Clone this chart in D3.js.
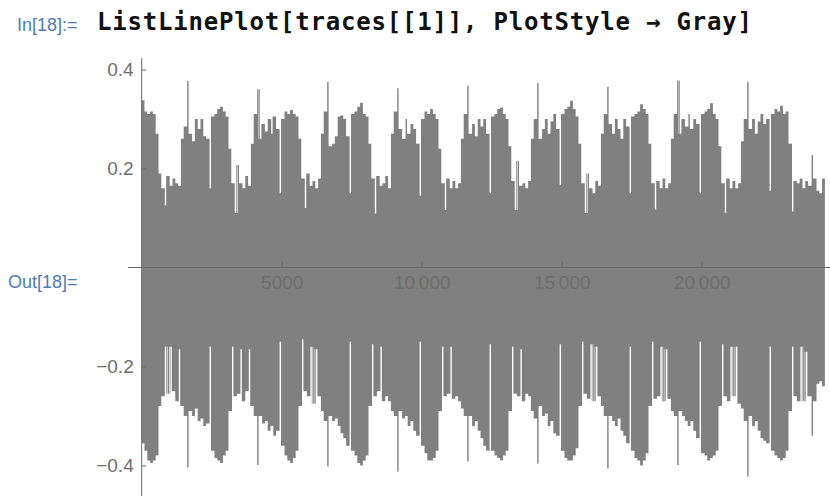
<!DOCTYPE html>
<html>
<head>
<meta charset="utf-8">
<script src="https://cdn.jsdelivr.net/npm/d3@7"></script>
<style>
  html, body { margin: 0; padding: 0; background: #fff; }
  svg { display: block; }
</style>
</head>
<body>
<svg id="chart" width="830" height="496"></svg>
<script>
// Trace 1, decimated: each entry is the max / min of one block of samples.
const binSize = 100;

const traceMax = [
  0.338, 0.315, 0.31, 0.315, 0.31, 0.27, 0.19, 0.16, 0.126, 0.185, 0.165, 0.18, 0.17, 0.165, 0.26, 0.285,
  0.377, 0.27, 0.255, 0.30, 0.28, 0.30, 0.265, 0.26, 0.16, 0.305, 0.31, 0.32, 0.325, 0.315, 0.305, 0.24, 0.17, 0.11, 0.207, 0.17, 0.16, 0.185, 0.165, 0.25, 0.31,
  0.36, 0.26, 0.29, 0.275, 0.30, 0.27, 0.305, 0.28, 0.15, 0.30, 0.315, 0.31, 0.318, 0.31, 0.305, 0.26, 0.18, 0.12, 0.19, 0.165, 0.175, 0.16, 0.18, 0.27, 0.315,
  0.375, 0.245, 0.25, 0.265, 0.305, 0.307, 0.30, 0.265, 0.15, 0.31, 0.315, 0.325, 0.333, 0.31, 0.305, 0.25, 0.18, 0.109, 0.185, 0.165, 0.17, 0.185, 0.16, 0.27, 0.315,
  0.362, 0.28, 0.26, 0.30, 0.27, 0.29, 0.28, 0.25, 0.145, 0.30, 0.315, 0.31, 0.32, 0.31, 0.30, 0.24, 0.17, 0.116, 0.18, 0.16, 0.175, 0.16, 0.17, 0.26, 0.31,
  0.367, 0.27, 0.29, 0.265, 0.30, 0.285, 0.30, 0.27, 0.15, 0.305, 0.31, 0.32, 0.323, 0.31, 0.30, 0.245, 0.175, 0.116, 0.215, 0.165, 0.17, 0.16, 0.175, 0.26, 0.30,
  0.372, 0.26, 0.28, 0.30, 0.27, 0.295, 0.31, 0.28, 0.167, 0.31, 0.32, 0.325, 0.337, 0.32, 0.305, 0.25, 0.17, 0.11, 0.19, 0.16, 0.15, 0.175, 0.165, 0.27, 0.31,
  0.365, 0.29, 0.27, 0.30, 0.28, 0.26, 0.30, 0.285, 0.15, 0.305, 0.31, 0.315, 0.33, 0.32, 0.31, 0.25, 0.17, 0.117, 0.175, 0.16, 0.18, 0.16, 0.17, 0.26, 0.31,
  0.378, 0.27, 0.30, 0.285, 0.31, 0.28, 0.30, 0.29, 0.15, 0.31, 0.315, 0.32, 0.332, 0.31, 0.30, 0.245, 0.17, 0.11, 0.18, 0.16, 0.175, 0.16, 0.17, 0.255, 0.30,
  0.375, 0.28, 0.30, 0.27, 0.295, 0.31, 0.29, 0.30, 0.155, 0.31, 0.32, 0.315, 0.327, 0.31, 0.315, 0.25,
  0.113, 0.175, 0.17, 0.18, 0.16, 0.175, 0.165, 0.227, 0.18, 0.155, 0.15, 0.18
];

const traceMin = [
  -0.355, -0.37, -0.39, -0.395, -0.39, -0.38, -0.28, -0.26, -0.16, -0.255, -0.16, -0.25, -0.27, -0.165, -0.28, -0.30,
  -0.404, -0.29, -0.30, -0.285, -0.31, -0.305, -0.32, -0.315, -0.16, -0.37, -0.385, -0.39, -0.395, -0.38, -0.37, -0.29, -0.16, -0.26, -0.255, -0.165, -0.27, -0.25, -0.165, -0.28, -0.30,
  -0.399, -0.30, -0.315, -0.31, -0.33, -0.32, -0.34, -0.33, -0.15, -0.36, -0.38, -0.39, -0.395, -0.385, -0.37, -0.28, -0.145, -0.25, -0.26, -0.16, -0.275, -0.165, -0.26, -0.29, -0.31,
  -0.402, -0.30, -0.31, -0.305, -0.32, -0.335, -0.345, -0.36, -0.15, -0.37, -0.38, -0.395, -0.40, -0.39, -0.38, -0.28, -0.155, -0.26, -0.25, -0.16, -0.27, -0.26, -0.27, -0.29, -0.30,
  -0.412, -0.29, -0.305, -0.30, -0.32, -0.31, -0.33, -0.34, -0.15, -0.36, -0.375, -0.39, -0.39, -0.385, -0.37, -0.29, -0.16, -0.26, -0.255, -0.16, -0.265, -0.26, -0.27, -0.285, -0.30,
  -0.392, -0.30, -0.32, -0.31, -0.33, -0.345, -0.36, -0.37, -0.155, -0.37, -0.38, -0.385, -0.39, -0.38, -0.37, -0.29, -0.16, -0.255, -0.26, -0.165, -0.27, -0.255, -0.26, -0.29, -0.305,
  -0.396, -0.28, -0.30, -0.295, -0.32, -0.31, -0.335, -0.34, -0.155, -0.37, -0.385, -0.39, -0.39, -0.38, -0.365, -0.28, -0.15, -0.255, -0.265, -0.155, -0.27, -0.16, -0.26, -0.28, -0.30,
  -0.406, -0.30, -0.31, -0.32, -0.305, -0.33, -0.34, -0.355, -0.16, -0.37, -0.385, -0.39, -0.40, -0.39, -0.375, -0.28, -0.15, -0.265, -0.26, -0.16, -0.27, -0.165, -0.265, -0.29, -0.30,
  -0.399, -0.29, -0.30, -0.31, -0.32, -0.31, -0.33, -0.345, -0.15, -0.375, -0.38, -0.39, -0.385, -0.38, -0.37, -0.28, -0.155, -0.26, -0.27, -0.16, -0.26, -0.16, -0.275, -0.285, -0.31,
  -0.422, -0.30, -0.32, -0.31, -0.33, -0.345, -0.35, -0.355, -0.16, -0.37, -0.38, -0.385, -0.39, -0.385, -0.37, -0.29,
  -0.16, -0.26, -0.27, -0.16, -0.27, -0.17, -0.26, -0.34, -0.27, -0.235, -0.23, -0.24
];

// Axis ticks
const xMajorTicks = [5000, 10000, 15000, 20000];
const xMajorLabels = ["5000", "10\u2009000", "15\u2009000", "20\u2009000"];
const xMinorTicks = [1000, 2000, 3000, 4000, 6000, 7000, 8000, 9000, 11000, 12000, 13000, 14000,
                     16000, 17000, 18000, 19000, 21000, 22000, 23000, 24000];
const yMajorTicks = [-0.4, -0.2, 0.2, 0.4];
const yMajorLabels = ["\u22120.4", "\u22120.2", "0.2", "0.4"];
const yMinorTicks = [-0.45, -0.35, -0.3, -0.25, -0.15, -0.1, -0.05, 0.05, 0.1, 0.15, 0.25, 0.3, 0.35];

const inputLabel = "In[18]:=";
const inputCode = "ListLinePlot[traces[[1]], PlotStyle \u2192 Gray]";
const outputLabel = "Out[18]=";

const svg = d3.select("#chart");

// Notebook cell text
svg.append("text")
  .attr("x", 17).attr("y", 30.5)
  .attr("font-family", "'Liberation Sans', Arial, sans-serif")
  .attr("font-size", 18)
  .attr("fill", "#4f7cb4")
  .text(inputLabel);

svg.append("text")
  .attr("x", 97).attr("y", 30)
  .attr("font-family", "'DejaVu Sans Mono', monospace")
  .attr("font-weight", "bold")
  .attr("font-size", 24)
  .attr("fill", "#111")
  .attr("textLength", 655)
  .attr("lengthAdjust", "spacing")
  .text(inputCode);

svg.append("text")
  .attr("x", 8).attr("y", 287.5)
  .attr("font-family", "'Liberation Sans', Arial, sans-serif")
  .attr("font-size", 18)
  .attr("fill", "#4f7cb4")
  .text(outputLabel);

// Scales
const nBins = traceMax.length;
const nSamples = nBins * binSize;
const x = d3.scaleLinear().domain([0, nSamples]).range([141.7, 141.7 + nSamples * 0.028]);
const y = d3.scaleLinear().domain([-0.4, 0.4]).range([465.5, 69.5]);

// Each block is drawn as four sub-steps. A block whose extreme stands out
// from both neighbours (an isolated spike or dropout) keeps its value only in
// the middle half, so single excursions render as hairlines like the raw trace.
function subSteps(vals, i) {
  const v = vals[i];
  const a = i > 0 ? vals[i - 1] : v;
  const b = i < vals.length - 1 ? vals[i + 1] : v;
  const isolated = (v - a) * (v - b) > 0 && Math.min(Math.abs(v - a), Math.abs(v - b)) > 0.025;
  return isolated ? [a, v, v, b] : [v, v, v, v];
}

const pts = [];
for (let i = 0; i < nBins; i++) {
  const hi = subSteps(traceMax, i);
  const lo = subSteps(traceMin, i);
  for (let q = 0; q < 4; q++) {
    pts.push({ s: i * binSize + q * binSize / 4, hi: hi[q], lo: lo[q] });
  }
}
pts.push({ s: nSamples, hi: traceMax[nBins - 1], lo: traceMin[nBins - 1] });

const band = d3.area()
  .curve(d3.curveStepAfter)
  .x(d => x(d.s))
  .y0(d => y(d.lo))
  .y1(d => y(d.hi));

svg.append("path")
  .datum(pts)
  .attr("d", band)
  .attr("fill", "#808080");

// Axes (drawn over the trace)
const axisColor = "#6a6a6a";
const labelFont = "'Liberation Sans', Arial, sans-serif";
const x0 = x(0), yZero = y(0);

const gx = svg.append("g").attr("transform", `translate(0,${yZero})`);
gx.call(d3.axisBottom(x).tickValues(xMinorTicks).tickSize(-3.5).tickFormat(""));
gx.call(d3.axisBottom(x).tickValues(xMajorTicks).tickSize(-5.5).tickPadding(8.5)
  .tickFormat((d, i) => xMajorLabels[i]));

const gy = svg.append("g").attr("transform", `translate(${x0},0)`);
gy.call(d3.axisLeft(y).tickValues(yMinorTicks).tickSize(-3).tickFormat(""));
gy.call(d3.axisLeft(y).tickValues(yMajorTicks).tickSize(-4.5).tickPadding(8)
  .tickFormat((d, i) => yMajorLabels[i]));

svg.selectAll(".domain").remove();
svg.selectAll(".tick line").attr("stroke", axisColor);
svg.selectAll(".tick text")
  .attr("font-family", labelFont)
  .attr("font-size", 19)
  .attr("fill", "#6e6e6e");

// Axis lines with plot-range padding
svg.append("line")
  .attr("x1", x(-nSamples * 0.02)).attr("x2", 830)
  .attr("y1", yZero).attr("y2", yZero)
  .attr("stroke", axisColor).attr("stroke-width", 1);

svg.append("line")
  .attr("x1", x0).attr("x2", x0)
  .attr("y1", y(0.423)).attr("y2", 496)
  .attr("stroke", axisColor).attr("stroke-width", 1);
</script>
</body>
</html>
